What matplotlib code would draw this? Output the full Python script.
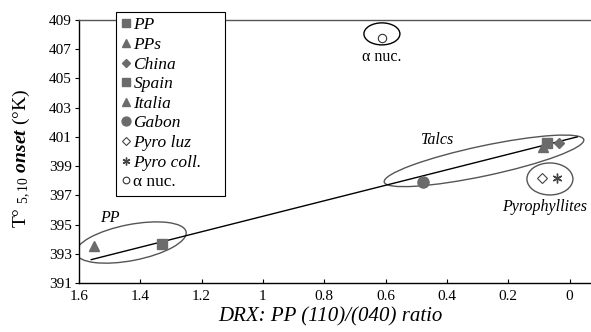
import matplotlib
matplotlib.use("Agg")
import matplotlib.pyplot as plt
import matplotlib.transforms as mtransforms
from matplotlib.patches import Ellipse

plt.rcParams['font.family'] = ['Liberation Serif', 'DejaVu Serif']
plt.rcParams['mathtext.fontset'] = 'custom'
plt.rcParams['mathtext.rm'] = 'Liberation Serif'
plt.rcParams['mathtext.it'] = 'Liberation Serif:italic'
plt.rcParams['mathtext.bf'] = 'Liberation Serif:bold:italic'

# data
series_names = ["PP", "PPs", "China", "Spain", "Italia", "Gabon", "Pyro luz", "Pyro coll.", "α nuc."]
series_x = [1.33, 1.55, 0.035, 0.074, 0.087, 0.478, 0.09, 0.04, 0.612]
series_y = [393.7, 393.5, 400.6, 400.6, 400.3, 397.9, 398.2, 398.2, 407.8]
trend_x = [1.56, -0.025]
trend_y = [392.6, 401.0]

x_ticks = [1.6, 1.4, 1.2, 1.0, 0.8, 0.6, 0.4, 0.2, 0.0]
x_labels = ["1.6", "1.4", "1.2", "1", "0.8", "0.6", "0.4", "0.2", "0"]
y_ticks = [391, 393, 395, 397, 399, 401, 403, 405, 407, 409]

# group labels: (text, x, y)
groups = [("PP", 1.50, 395.45), ("α nuc.", 0.612, 406.5),
          ("Talcs", 0.43, 400.8), ("Pyrophyllites", 0.08, 396.2)]
# ellipses: centre in data, size in pixels, angle
rings = [(1.430, 393.77, 112, 36, 11), (0.612, 408.05, 36, 22, 0),
         (0.279, 399.36, 204, 30, 12), (0.064, 398.12, 46, 32, 0)]

grey = "#6b6b6b"
styles = [
    dict(marker="s", color=grey, ms=7),
    dict(marker="^", color=grey, ms=7),
    dict(marker="D", color=grey, ms=5),
    dict(marker="s", color=grey, ms=7),
    dict(marker="^", color=grey, ms=7),
    dict(marker="o", color=grey, ms=8),
    dict(marker="D", mfc="white", mec="#444444", ms=5, mew=0.8),
    dict(marker=(6, 2, 0), color="#444444", ms=7, mew=1.0),
    dict(marker="o", mfc="white", mec="#333333", ms=6, mew=0.8),
]

fig = plt.figure(figsize=(5.91, 3.32), dpi=100)
ax = fig.add_axes([79 / 591, 49 / 332, 1 - 79 / 591, (283 - 20) / 332])

ax.plot(trend_x, trend_y, color="black", lw=1.0, zorder=2)
for name, x, y, st in zip(series_names, series_x, series_y, styles):
    st = dict(st)
    if "color" in st:
        c = st.pop("color")
        st.setdefault("mfc", c)
        st.setdefault("mec", c)
    ax.plot([x], [y], linestyle="none", label=name, zorder=3, **st)

ax.set_xlim(1.6, -0.07)
ax.set_ylim(391, 409)
ax.set_xticks(x_ticks)
ax.set_xticklabels(x_labels)
ax.set_yticks(y_ticks)
ax.tick_params(axis="x", direction="in", length=3, labelsize=11, pad=5)
ax.tick_params(axis="y", direction="out", length=3, labelsize=11, pad=2)
ax.spines["right"].set_visible(False)
for s in ["left", "bottom"]:
    ax.spines[s].set_color("black")
    ax.spines[s].set_linewidth(1.0)
ax.spines["top"].set_color("#555555")
ax.spines["top"].set_linewidth(1.0)

for cx, cy, w, h, a in rings:
    tr = mtransforms.IdentityTransform() + mtransforms.ScaledTranslation(cx, cy, ax.transData)
    e = Ellipse((0, 0), w, h, angle=a, transform=tr, fill=False,
                edgecolor="#555555" if w > 40 else "black", lw=1.0)
    ax.add_patch(e)

for txt, x, y in groups:
    ax.text(x, y, txt, ha="center", va="center", fontsize=11.5,
            style="normal" if txt.startswith("α") else "italic")

leg_h = 60 / 332
leg = ax.legend(loc="upper left",
                bbox_to_anchor=(116 / 591, 1 - 12 / 332 - leg_h, 109 / 591, leg_h),
                bbox_transform=fig.transFigure, mode="expand",
                borderaxespad=0, fancybox=False,
                edgecolor="black", framealpha=1, handlelength=0.5,
                handletextpad=0.2, labelspacing=0.2, borderpad=0.3,
                markerscale=0.8,
                prop=dict(family="Liberation Serif", style="italic", size=12.5))
leg.get_frame().set_linewidth(0.8)
for t in leg.get_texts():
    if t.get_text().startswith("α"):
        t.set_style("normal")
leg.set_zorder(5)

fig.text(330 / 591, 1 - 317 / 332, "DRX: PP (110)/(040) ratio", ha="center",
         va="center", fontsize=15, style="italic")
fig.text(22 / 591, 1 - 158 / 332, r"T° $_{5,10}$ $\mathbf{onset}$ (°K)",
         rotation=90, ha="center", va="center", fontsize=14)

fig.savefig("out.png", dpi=100)
